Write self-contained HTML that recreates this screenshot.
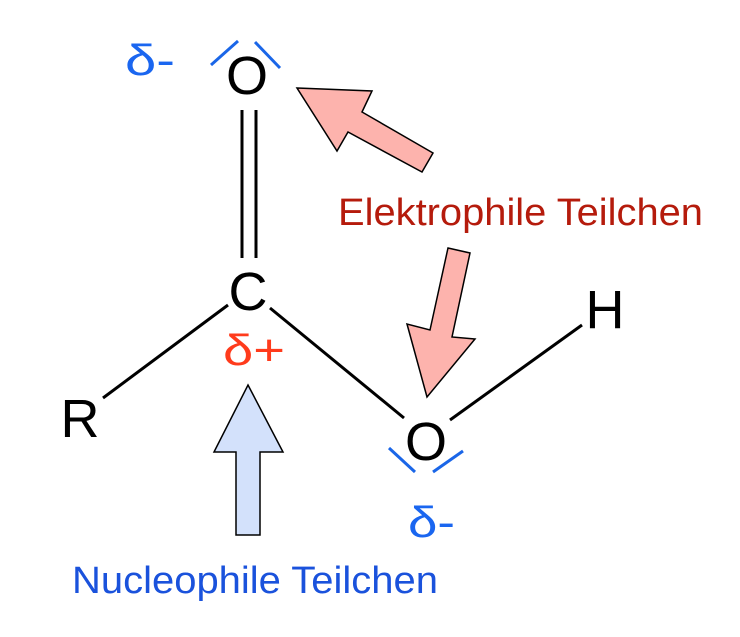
<!DOCTYPE html>
<html><head><meta charset="utf-8"><style>
html,body{margin:0;padding:0;background:#fff;}
svg{display:block;}
text{font-family:"Liberation Sans",Arial,sans-serif;}
</style></head><body>
<svg width="740" height="637" viewBox="0 0 740 637" xmlns="http://www.w3.org/2000/svg">
<rect width="740" height="637" fill="#fff"/>
<!-- bonds -->
<g stroke="#000" stroke-width="3" fill="none">
<line x1="242" y1="110" x2="242" y2="258"/>
<line x1="256" y1="110" x2="256" y2="258"/>
<line x1="103" y1="398" x2="228" y2="305"/>
<line x1="270" y1="308" x2="404" y2="418"/>
<line x1="450" y1="420" x2="582" y2="325"/>
</g>
<!-- lone pairs -->
<g stroke="#1a66e8" stroke-width="3">
<line x1="211" y1="65" x2="238" y2="41"/>
<line x1="255" y1="42" x2="280" y2="68"/>
<line x1="389" y1="448" x2="415" y2="472"/>
<line x1="433" y1="472" x2="463" y2="451"/>
</g>
<!-- atoms -->
<g fill="#000" font-size="54" text-anchor="middle">
<text x="247" y="94">O</text>
<text x="248" y="310">C</text>
<text x="426" y="460">O</text>
<text x="80" y="437">R</text>
<text x="605" y="328">H</text>
</g>
<!-- partial charges -->
<text x="125" y="75" font-size="44" fill="#1a66f0" textLength="50" lengthAdjust="spacingAndGlyphs">δ-</text>
<text x="223" y="365" font-size="44" fill="#ff3b1c" textLength="62" lengthAdjust="spacingAndGlyphs">δ+</text>
<text x="408" y="537" font-size="44" fill="#1a66f0" textLength="47" lengthAdjust="spacingAndGlyphs">δ-</text>
<!-- arrows -->
<polygon points="297,88 372,91 362,112 433,153 422,172 348,132 337,151" fill="#fdb3ad" stroke="#000" stroke-width="1.5"/>
<polygon points="448,248 470,253 452,337 475,339 427,397 407,324 430,330" fill="#fdb3ad" stroke="#000" stroke-width="1.5"/>
<polygon points="248,385 283,452 260,452 260,535 236,535 236,452 214,452" fill="#d3e1fb" stroke="#000" stroke-width="1.5"/>
<!-- labels -->
<text x="338" y="225" font-size="38" fill="#b51b0c" textLength="365" lengthAdjust="spacingAndGlyphs">Elektrophile Teilchen</text>
<text x="72" y="593" font-size="38" fill="#1a52dc" textLength="366" lengthAdjust="spacingAndGlyphs">Nucleophile Teilchen</text>
</svg>
</body></html>
